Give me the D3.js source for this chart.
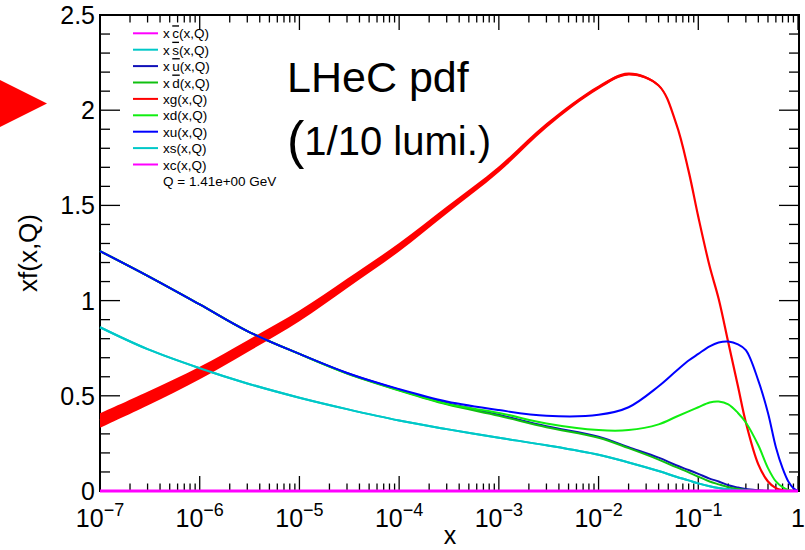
<!DOCTYPE html>
<html>
<head>
<meta charset="utf-8">
<script src="https://cdn.jsdelivr.net/npm/d3@7"></script>
<style>
  html, body { margin: 0; padding: 0; background: #fff; }
  svg { display: block; }
  text { font-family: "Liberation Sans", Arial, Helvetica, sans-serif; fill: #000; }
</style>
</head>
<body>
<svg id="chart" width="805" height="550"></svg>
<script>
// Momentum fraction grid
const xs = [1e-7, 3e-7, 1e-6, 3e-6, 1e-5, 3e-5, 1e-4, 3e-4, 1e-3, 3e-3, 0.01, 0.02, 0.04, 0.06, 0.08,
            0.1, 0.13, 0.16, 0.2, 0.25, 0.3, 0.4, 0.5, 0.6, 0.7, 0.8, 0.9, 1.0];

// Parton distributions x*f(x,Q) at Q = 1.41 GeV
const xgVal  = [0.37, 0.485, 0.62, 0.76, 0.92, 1.09, 1.28, 1.475, 1.69, 1.92, 2.12, 2.19, 2.13, 1.93, 1.68,
                1.44, 1.18, 1.01, 0.78, 0.55, 0.36, 0.14, 0.05, 0.015, 0.004, 0.001, 0, 0];
const xgErr  = [0.038, 0.036, 0.033, 0.031, 0.028, 0.025, 0.022, 0.019, 0.016, 0.013, 0.010, 0.008, 0.006, 0.005, 0.004,
                0.004, 0.004, 0.003, 0.003, 0.003, 0.002, 0.002, 0.001, 0.001, 0, 0, 0, 0];
const xuVal  = [1.26, 1.13, 0.98, 0.84, 0.72, 0.62, 0.535, 0.47, 0.425, 0.395, 0.40, 0.44, 0.55, 0.63, 0.685,
                0.72, 0.76, 0.78, 0.785, 0.77, 0.74, 0.58, 0.41, 0.23, 0.12, 0.05, 0.015, 0];
const xdVal  = [1.26, 1.13, 0.98, 0.84, 0.72, 0.618, 0.53, 0.458, 0.41, 0.355, 0.32, 0.32, 0.35, 0.39, 0.418,
                0.44, 0.465, 0.47, 0.455, 0.41, 0.36, 0.24, 0.12, 0.05, 0.02, 0.005, 0.001, 0];
const xubVal = [1.26, 1.13, 0.98, 0.84, 0.72, 0.62, 0.532, 0.462, 0.40, 0.34, 0.285, 0.23, 0.175, 0.135, 0.11,
                0.09, 0.065, 0.05, 0.03, 0.018, 0.01, 0.004, 0.001, 0, 0, 0, 0, 0];
const xdbVal = [1.26, 1.13, 0.98, 0.84, 0.72, 0.617, 0.528, 0.455, 0.395, 0.335, 0.28, 0.225, 0.165, 0.125, 0.098,
                0.075, 0.05, 0.035, 0.02, 0.01, 0.005, 0.001, 0, 0, 0, 0, 0, 0];
const xsVal  = [0.86, 0.745, 0.645, 0.565, 0.49, 0.43, 0.37, 0.325, 0.28, 0.24, 0.19, 0.15, 0.105, 0.075, 0.056,
                0.04, 0.025, 0.016, 0.009, 0.004, 0.002, 0.0005, 0, 0, 0, 0, 0, 0];
const xsbVal = xsVal.slice();
const xcVal  = [0, 0, 0, 0, 0, 0, 0, 0, 0, 0, 0, 0, 0, 0, 0, 0, 0, 0, 0, 0, 0, 0, 0, 0, 0, 0, 0, 0];
const xcbVal = xcVal.slice();

// Axis tick labels
const xMajor = [1e-7, 1e-6, 1e-5, 1e-4, 1e-3, 1e-2, 1e-1, 1];
const xExpLabels = ["−7", "−6", "−5", "−4", "−3", "−2", "−1", ""];
const yLabels = [0, 0.5, 1, 1.5, 2, 2.5];

// Legend
const legendNames = ["c", "s", "u", "d", "g", "d", "u", "s", "c"];
const legendBar   = [true, true, true, true, false, false, false, false, false];
const legendColors = ["#ff00ff", "#00c8c8", "#1010b8", "#10c010", "#ff0000", "#10ee10", "#0000ff", "#00c8c8", "#ff00ff"];
const qLabel = "Q = 1.41e+00 GeV";

const svg = d3.select("#chart");
const L = 100, R = 799, T = 15, B = 491;

const x = d3.scaleLog().domain([1e-7, 1]).range([L, R - 1]);
const y = d3.scaleLinear().domain([0, 2.5]).range([B, T]);

// Frame
svg.append("rect").attr("x", L).attr("y", T).attr("width", R - L).attr("height", B - T)
  .attr("fill", "none").attr("stroke", "#000").attr("stroke-width", 2);

const ticks = svg.append("g").attr("stroke", "#000").attr("stroke-width", 1.3);

// Log x ticks, bottom and top, pointing inward
const xTicks = [];
for (let e = -7; e < 0; e++) {
  for (let k = 1; k <= 9; k++) xTicks.push({ v: k * Math.pow(10, e), major: k === 1 });
}
xTicks.push({ v: 1, major: true });
xTicks.forEach(t => {
  const px = x(t.v), len = t.major ? 15 : 7.5;
  ticks.append("line").attr("x1", px).attr("x2", px).attr("y1", B).attr("y2", B - len);
  ticks.append("line").attr("x1", px).attr("x2", px).attr("y1", T).attr("y2", T + len);
});

// Linear y ticks, left and right, pointing inward
d3.range(0, 26).forEach(i => {
  const v = i / 10, py = y(v), len = (i % 5 === 0) ? 20 : 10;
  ticks.append("line").attr("x1", L).attr("x2", L + len).attr("y1", py).attr("y2", py);
  ticks.append("line").attr("x1", R).attr("x2", R - len).attr("y1", py).attr("y2", py);
});

// x tick labels
xMajor.forEach((v, i) => {
  const t = svg.append("text").attr("x", x(v)).attr("y", 527)
    .attr("text-anchor", "middle").attr("font-size", 25);
  if (xExpLabels[i] === "") {
    t.text("1");
  } else {
    t.append("tspan").text("10");
    t.append("tspan").attr("dy", -11).attr("font-size", 18).text(xExpLabels[i]);
  }
});

// y tick labels
yLabels.forEach(v => {
  svg.append("text").attr("x", 95).attr("y", y(v) + 9)
    .attr("text-anchor", "end").attr("font-size", 25).text(v);
});

// Axis titles
svg.append("text").attr("x", 450).attr("y", 544).attr("text-anchor", "middle")
  .attr("font-size", 25).text("x");
svg.append("text").attr("transform", "translate(37,253) rotate(-90)")
  .attr("text-anchor", "middle").attr("font-size", 26).text("xf(x,Q)");

// Curves
const plot = svg.append("g");
const smooth = d3.curveCatmullRom.alpha(0.5);
const line = vals => d3.line()
  .x((d, i) => x(xs[i])).y(d => y(Math.max(0, d)))
  .curve(smooth)(vals);

const drawLine = (vals, color, w) => plot.append("path")
  .attr("d", line(vals)).attr("fill", "none")
  .attr("stroke", color).attr("stroke-width", w).attr("stroke-linejoin", "round");

drawLine(xcbVal, legendColors[0], 2);
drawLine(xsbVal, legendColors[1], 2);
drawLine(xubVal, legendColors[2], 2);
drawLine(xdbVal, legendColors[3], 2);

// Gluon with its uncertainty band
const band = d3.area()
  .x((d, i) => x(xs[i]))
  .y0((d, i) => y(d - xgErr[i]))
  .y1((d, i) => y(d + xgErr[i]))
  .curve(smooth);
plot.append("path").attr("d", band(xgVal)).attr("fill", "#ff0000").attr("stroke", "none");
drawLine(xgVal, "#ff0000", 2.2);

drawLine(xdVal, legendColors[5], 2);
drawLine(xuVal, legendColors[6], 2);
drawLine(xsVal, legendColors[7], 2);
drawLine(xcVal, legendColors[8], 3);

// Legend
const lg = svg.append("g");
legendNames.forEach((n, i) => {
  const ry = 33.3 + i * 16.4;
  lg.append("line").attr("x1", 133).attr("x2", 158).attr("y1", ry).attr("y2", ry)
    .attr("stroke", legendColors[i]).attr("stroke-width", 2);
  const t = lg.append("text").attr("x", 163).attr("y", ry + 5).attr("font-size", 13.5);
  if (legendBar[i]) {
    t.append("tspan").text("x");
    t.append("tspan").attr("dx", 2.5).attr("text-decoration", "overline").text(n);
    t.append("tspan").text("(x,Q)");
  } else {
    t.text("x" + n + "(x,Q)");
  }
});
lg.append("text").attr("x", 163).attr("y", 33.3 + 9 * 16.4 + 5).attr("font-size", 13.5).text(qLabel);

// Title
svg.append("text").attr("x", 287).attr("y", 92).attr("font-size", 43).text("LHeC pdf");
const sub = svg.append("text").attr("x", 287).attr("y", 155).attr("font-size", 40);
sub.append("tspan").attr("font-size", 52).attr("dy", 3).text("(");
sub.append("tspan").attr("dy", -3).text("1/10 lumi.)");

// Red pointer on the left margin
svg.append("path").attr("d", d3.line()([[0, 80], [47, 103.5], [0, 127]]) + "Z").attr("fill", "#ff0000");
</script>
</body>
</html>
